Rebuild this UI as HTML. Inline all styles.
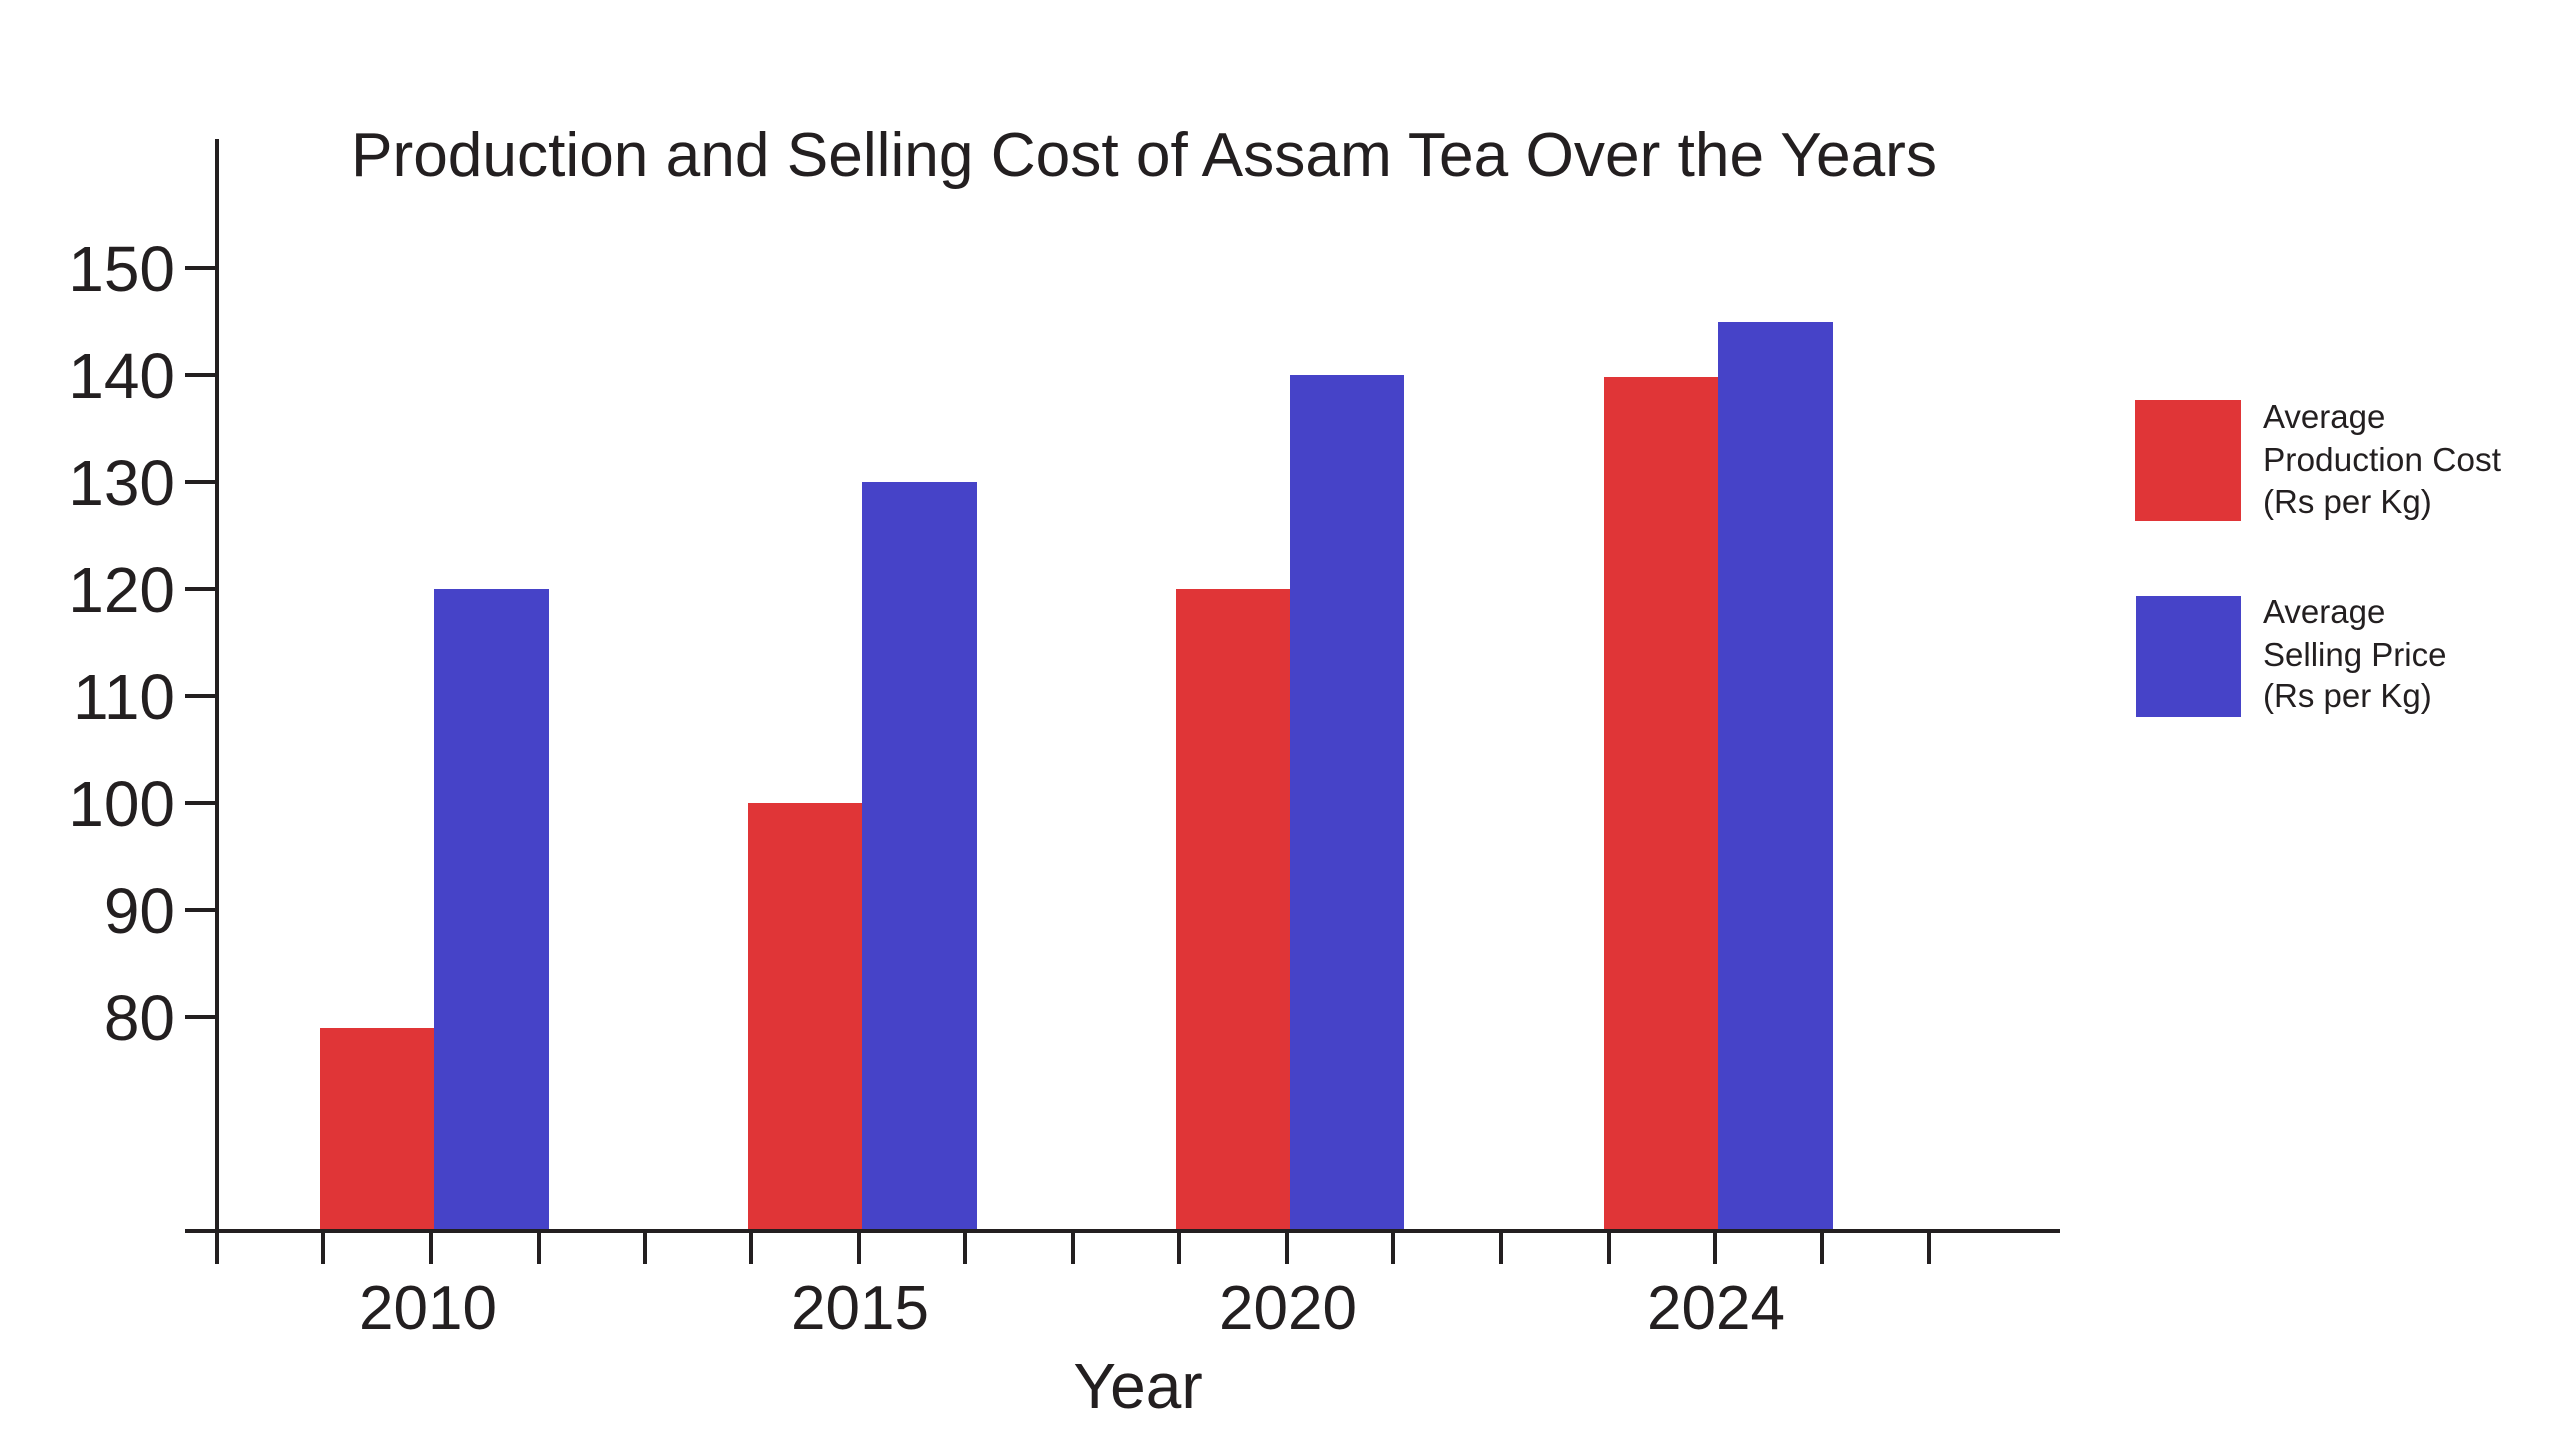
<!DOCTYPE html>
<html><head><meta charset="utf-8"><style>
html,body{margin:0;padding:0;background:#fff;}
svg{display:block;}
text{font-family:"Liberation Sans",sans-serif;fill:#231f20;}
</style></head><body>
<svg width="2560" height="1440" viewBox="0 0 2560 1440" xmlns="http://www.w3.org/2000/svg">
<text x="1144" y="176" font-size="62" text-anchor="middle" textLength="1586" lengthAdjust="spacingAndGlyphs">Production and Selling Cost of Assam Tea Over the Years</text>
<rect x="320" y="1028" width="114" height="203" fill="#e03537"/>
<rect x="434" y="589" width="115" height="642" fill="#4643c8"/>
<rect x="748" y="803" width="114" height="428" fill="#e03537"/>
<rect x="862" y="482" width="115" height="749" fill="#4643c8"/>
<rect x="1176" y="589" width="114" height="642" fill="#e03537"/>
<rect x="1290" y="375" width="114" height="856" fill="#4643c8"/>
<rect x="1604" y="377" width="114" height="854" fill="#e03537"/>
<rect x="1718" y="322" width="115" height="909" fill="#4643c8"/>
<g stroke="#231f20" stroke-width="4" fill="none">
<line x1="217" y1="139" x2="217" y2="1264"/>
<line x1="185" y1="1231" x2="2060" y2="1231"/>
<line x1="185" y1="268" x2="217" y2="268"/>
<line x1="185" y1="375" x2="217" y2="375"/>
<line x1="185" y1="482" x2="217" y2="482"/>
<line x1="185" y1="589" x2="217" y2="589"/>
<line x1="185" y1="696" x2="217" y2="696"/>
<line x1="185" y1="803" x2="217" y2="803"/>
<line x1="185" y1="910" x2="217" y2="910"/>
<line x1="185" y1="1017" x2="217" y2="1017"/>
<line x1="323" y1="1231" x2="323" y2="1264"/>
<line x1="431" y1="1231" x2="431" y2="1264"/>
<line x1="539" y1="1231" x2="539" y2="1264"/>
<line x1="645" y1="1231" x2="645" y2="1264"/>
<line x1="751" y1="1231" x2="751" y2="1264"/>
<line x1="859" y1="1231" x2="859" y2="1264"/>
<line x1="965" y1="1231" x2="965" y2="1264"/>
<line x1="1073" y1="1231" x2="1073" y2="1264"/>
<line x1="1179" y1="1231" x2="1179" y2="1264"/>
<line x1="1287" y1="1231" x2="1287" y2="1264"/>
<line x1="1393" y1="1231" x2="1393" y2="1264"/>
<line x1="1501" y1="1231" x2="1501" y2="1264"/>
<line x1="1609" y1="1231" x2="1609" y2="1264"/>
<line x1="1715" y1="1231" x2="1715" y2="1264"/>
<line x1="1822" y1="1231" x2="1822" y2="1264"/>
<line x1="1929" y1="1231" x2="1929" y2="1264"/>
</g>
<g font-size="64" text-anchor="end">
<text x="175" y="291">150</text>
<text x="175" y="398">140</text>
<text x="175" y="505">130</text>
<text x="175" y="612">120</text>
<text x="175" y="719">110</text>
<text x="175" y="826">100</text>
<text x="175" y="933">90</text>
<text x="175" y="1040">80</text>
</g>
<g font-size="62" text-anchor="middle">
<text x="428" y="1329">2010</text>
<text x="860" y="1329">2015</text>
<text x="1288" y="1329">2020</text>
<text x="1716" y="1329">2024</text>
<text x="1138" y="1408" font-size="64">Year</text>
</g>
<rect x="2135" y="400" width="106" height="121" fill="#e03537"/>
<rect x="2136" y="596" width="105" height="121" fill="#4643c8"/>
<g font-size="33">
<text x="2263" y="428">Average</text>
<text x="2263" y="471" textLength="238" lengthAdjust="spacingAndGlyphs">Production Cost</text>
<text x="2263" y="513">(Rs per Kg)</text>
<text x="2263" y="623">Average</text>
<text x="2263" y="666">Selling Price</text>
<text x="2263" y="707">(Rs per Kg)</text>
</g>
</svg>
</body></html>
